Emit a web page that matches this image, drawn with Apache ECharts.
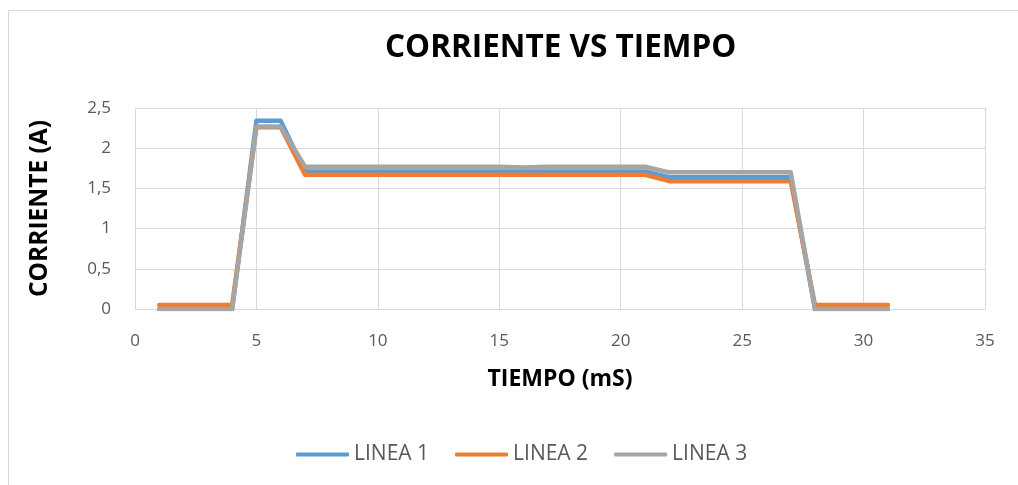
<!DOCTYPE html>
<html>
<head>
<meta charset="utf-8">
<script src="https://cdn.jsdelivr.net/npm/echarts@6/dist/echarts.min.js"></script>
<style>
  html, body { margin: 0; padding: 0; background: #ffffff; }
  #chart { width: 1018px; height: 485px; }
</style>
</head>
<body>
<div id="chart"></div>
<script>
// Tiempo (mS) de cada muestra
const tiempo = [1,2,3,4,5,6,7,8,9,10,11,12,13,14,15,16,17,18,19,20,21,22,23,24,25,26,27,28,29,30,31];

// Corriente (A) medida en cada línea
const linea1 = [0,0,0,0,2.34,2.34,1.71,1.71,1.71,1.71,1.71,1.71,1.71,1.71,1.71,1.71,1.71,1.71,1.71,1.71,1.71,1.64,1.64,1.64,1.64,1.64,1.64,0,0,0,0];
const linea2 = [0.05,0.05,0.05,0.05,2.26,2.26,1.67,1.67,1.67,1.67,1.67,1.67,1.67,1.67,1.67,1.67,1.67,1.67,1.67,1.67,1.67,1.59,1.59,1.59,1.59,1.59,1.59,0.05,0.05,0.05,0.05];
const linea3 = [0,0,0,0,2.27,2.27,1.77,1.77,1.77,1.77,1.77,1.77,1.77,1.77,1.77,1.76,1.77,1.77,1.77,1.77,1.77,1.70,1.70,1.70,1.70,1.70,1.70,0,0,0,0];

const nombres = ['LINEA 1', 'LINEA 2', 'LINEA 3'];
const colores = ['#5B9BD5', '#ED7D31', '#A5A5A5'];
const valores = [linea1, linea2, linea3];

const chart = echarts.init(document.getElementById('chart'), null, { renderer: 'canvas' });

const fuente = '"Open Sans", "Liberation Sans", sans-serif';

chart.setOption({
  animation: false,
  backgroundColor: '#ffffff',
  textStyle: { fontFamily: fuente },
  graphic: [{
    type: 'rect',
    shape: { x: 8.5, y: 10.5, width: 1030, height: 500 },
    style: { fill: 'none', stroke: '#d9d9d9', lineWidth: 1 },
    silent: true
  }],
  title: {
    text: 'CORRIENTE VS TIEMPO',
    left: 380,
    top: 27,
    textStyle: { fontFamily: fuente, fontSize: 31.5, fontWeight: 'bold', color: '#000000' }
  },
  legend: {
    top: 439,
    left: 291,
    itemWidth: 53,
    itemHeight: 4,
    itemGap: 26,
    icon: 'roundRect',
    textStyle: { fontFamily: fuente, fontSize: 21, color: '#595959' },
    data: nombres
  },
  grid: { left: 135, right: 33, top: 108, bottom: 176 },
  xAxis: {
    type: 'value',
    min: 0, max: 35, interval: 5,
    name: 'TIEMPO (mS)',
    nameLocation: 'middle',
    nameGap: 59,
    nameTextStyle: { fontFamily: fuente, fontSize: 23, fontWeight: 'bold', color: '#000000' },
    axisLine: { show: true, lineStyle: { color: '#d9d9d9', width: 1 } },
    axisTick: { show: false },
    axisLabel: { fontFamily: fuente, fontSize: 17, color: '#595959', margin: 24 },
    splitLine: { show: true, lineStyle: { color: '#d9d9d9', width: 1 } }
  },
  yAxis: {
    type: 'value',
    min: 0, max: 2.5, interval: 0.5,
    name: 'CORRIENTE (A)',
    nameLocation: 'middle',
    nameGap: 82,
    nameRotate: 90,
    nameTextStyle: { fontFamily: fuente, fontSize: 24.5, fontWeight: 'bold', color: '#000000' },
    axisLine: { show: true, lineStyle: { color: '#d9d9d9', width: 1 } },
    axisTick: { show: false },
    axisLabel: {
      fontFamily: fuente, fontSize: 17, color: '#595959', margin: 24,
      formatter: v => String(v).replace('.', ',')
    },
    splitLine: { show: true, lineStyle: { color: '#d9d9d9', width: 1 } }
  },
  series: valores.map((serie, i) => ({
    name: nombres[i],
    type: 'line',
    data: tiempo.map((t, j) => [t, serie[j]]),
    showSymbol: false,
    symbol: 'none',
    color: colores[i],
    lineStyle: { color: colores[i], width: 4.5, cap: 'round', join: 'round' },
    z: 2 + i
  }))
});
</script>
</body>
</html>
